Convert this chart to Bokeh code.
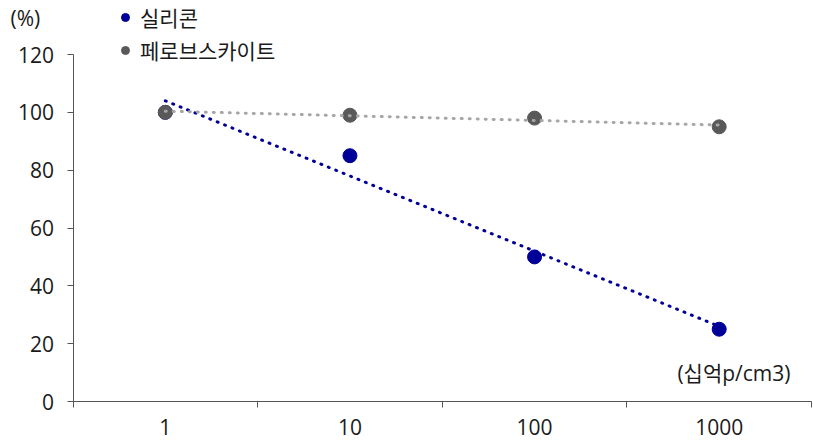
from bokeh.plotting import figure
from bokeh.models import FixedTicker, Legend, LegendItem, Label, Range1d
from bokeh.embed import file_html
from bokeh.resources import INLINE
import numpy as np

categories = ["1", "10", "100", "1000"]
silicon = [100, 85, 50, 25]
perovskite = [100, 99, 98, 95]
series_names = ["실리콘", "페로브스카이트"]
y_ticks = [0, 20, 40, 60, 80, 100, 120]
y_unit = "(%)"
x_unit = "(십억p/cm3)"

FONT = "Open Sans, Noto Sans CJK KR"
FS = "21px"
BLUE = "#000099"
GREY = "#595959"
LGREY = "#A6A6A6"
AXIS = "#555555"
TXT = "#1a1a1a"

n = len(categories)
xc = [i + 0.5 for i in range(n)]

W, H = 813, 441
AX_X, AX_RIGHT = 72.5, 811      # pixel columns of the axis start / end
Y0, Y120 = 401, 54              # pixel rows of value 0 and 120
cat_px = (AX_RIGHT - AX_X) / n
px_per_unit = (Y0 - Y120) / y_ticks[-1]
x_start = -AX_X / cat_px
x_end = (W - AX_X) / cat_px
y_start = -(H - Y0) / px_per_unit
y_end = Y0 / px_per_unit

p = figure(width=W, height=H, output_backend="svg", toolbar_location=None,
           x_range=Range1d(x_start, x_end), y_range=Range1d(y_start, y_end),
           min_border_left=0, min_border_right=0, min_border_top=0,
           min_border_bottom=0)
p.outline_line_color = None
p.xgrid.visible = False
p.ygrid.visible = False

idx = np.arange(1, n + 1)

r1 = p.scatter(xc, silicon, size=14, color=BLUE)
r2 = p.scatter(xc, perovskite, size=14, color=GREY)

for vals, col in ((silicon, BLUE), (perovskite, LGREY)):
    k, b = np.polyfit(idx, vals, 1)
    ends = [k * idx[0] + b, k * idx[-1] + b]
    p.line([xc[0], xc[-1]], ends, line_color=col, line_width=3,
           line_dash="1 7", line_cap="round")

xa = p.xaxis[0]
xa.fixed_location = 0
xa.ticker = FixedTicker(ticks=xc, minor_ticks=list(range(n + 1)))
xa.bounds = (0, n)
xa.major_label_overrides = {c: lab for c, lab in zip(xc, categories)}
xa.major_tick_out = 0
xa.major_tick_in = 0
xa.minor_tick_out = 6
xa.minor_tick_in = 0
xa.minor_tick_line_color = AXIS
xa.axis_line_color = AXIS
xa.major_label_standoff = 11

ya = p.yaxis[0]
ya.fixed_location = 0
ya.ticker = FixedTicker(ticks=y_ticks, minor_ticks=[])
ya.bounds = (y_ticks[0], y_ticks[-1])
ya.major_tick_out = 6
ya.major_tick_in = 0
ya.major_tick_line_color = AXIS
ya.axis_line_color = AXIS
ya.major_label_standoff = 13

for ax in (xa, ya):
    ax.major_label_text_font = FONT
    ax.major_label_text_font_size = FS
    ax.major_label_text_color = TXT

legend = Legend(items=[LegendItem(label=series_names[0], renderers=[r1]),
                       LegendItem(label=series_names[1], renderers=[r2])],
                location=(115, H - 65), glyph_width=20, glyph_height=30, label_height=30,
                spacing=3, padding=0, margin=0, label_standoff=5,
                border_line_alpha=0, background_fill_alpha=0,
                label_text_font=FONT, label_text_font_size=FS, label_text_color=TXT)
p.add_layout(legend, "center")

p.add_layout(Label(x=10, y=H - 17, x_units="screen", y_units="screen", text=y_unit,
                   text_baseline="middle", text_align="left",
                   text_font=FONT, text_font_size=FS, text_color=TXT))
p.add_layout(Label(x=790, y=H - 372, x_units="screen", y_units="screen", text=x_unit,
                   text_baseline="middle", text_align="right",
                   text_font=FONT, text_font_size=FS, text_color=TXT))

open("out.html", "w").write(file_html(p, INLINE))
